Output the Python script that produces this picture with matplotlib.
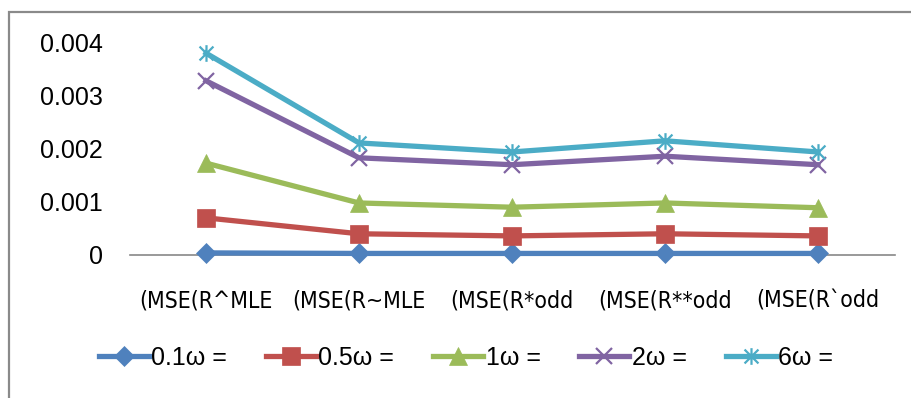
import matplotlib
matplotlib.use("Agg")
import matplotlib.pyplot as plt
from matplotlib.path import Path
from matplotlib.patches import Rectangle

categories = ["(MSE(R^MLE", "(MSE(R~MLE", "(MSE(R*odd", "(MSE(R**odd", "(MSE(R`odd"]
series_labels = ["0.1ω =", "0.5ω =", "1ω =", "2ω =", "6ω ="]
w01 = [0.00003, 0.00002, 0.00002, 0.00002, 0.00002]
w05 = [0.00069, 0.00039, 0.00035, 0.00039, 0.00035]
w1 = [0.00172, 0.00097, 0.00089, 0.00097, 0.00088]
w2 = [0.00327, 0.00182, 0.00169, 0.00185, 0.00169]
w6 = [0.00379, 0.00210, 0.00193, 0.00214, 0.00193]
yticks = [0, 0.001, 0.002, 0.003, 0.004]
ytick_labels = ["0", "0.001", "0.002", "0.003", "0.004"]

colors = ["#4F81BD", "#C0504D", "#9BBB59", "#8064A2", "#4BACC6"]

# x-cross with an extra vertical stroke
star = Path(
    [(-1, -1), (1, 1), (-1, 1), (1, -1), (0, -1.2), (0, 1.2)],
    [Path.MOVETO, Path.LINETO, Path.MOVETO, Path.LINETO, Path.MOVETO, Path.LINETO],
)
markers = ["D", "s", "^", "x", star]
msizes = [10, 13, 13, 12, 12]

plt.rcParams["font.family"] = ["Liberation Sans", "DejaVu Sans"]

fig = plt.figure(figsize=(9.11, 3.98), dpi=100)
ax = fig.add_axes([129.5 / 911, 1 - 254.5 / 398, 765 / 911, (254.5 - 42) / 398])

x = list(range(len(categories)))
for vals, lab, c, m, ms in zip([w01, w05, w1, w2, w6], series_labels, colors, markers, msizes):
    filled = m in ("D", "s", "^")
    ax.plot(x, vals, color=c, lw=3.8, marker=m, markersize=ms,
            markerfacecolor=c, markeredgecolor=c,
            markeredgewidth=0.5 if filled else 1.6,
            label=lab, clip_on=False, zorder=3)

ax.set_xlim(-0.5, len(categories) - 0.5)
ax.set_ylim(0, 0.004)
ax.set_yticks(yticks)
ax.set_yticklabels(ytick_labels, fontsize=18)
ax.set_xticks(x)
ax.set_xticklabels(categories, fontsize=16.5, family="DejaVu Sans", fontstretch="condensed")
ax.tick_params(axis="y", length=0, pad=19)
ax.tick_params(axis="x", length=0, pad=25)
for s in ("top", "right", "left"):
    ax.spines[s].set_visible(False)
ax.spines["bottom"].set_color("#888888")
ax.spines["bottom"].set_linewidth(1.2)

fig.legend(loc="center", bbox_to_anchor=(466 / 911, 1 - 358 / 398), ncol=5,
           frameon=False, fontsize=18, handlelength=2.0, handletextpad=0.1,
           columnspacing=1.55)

# chart-area frame
fig.add_artist(Rectangle((9 / 911, -0.1), 1.2, 1.1 - 12 / 398, transform=fig.transFigure,
                         fill=False, edgecolor="#8a8a8a", lw=1.6))

fig.savefig("out.png", dpi=100)
